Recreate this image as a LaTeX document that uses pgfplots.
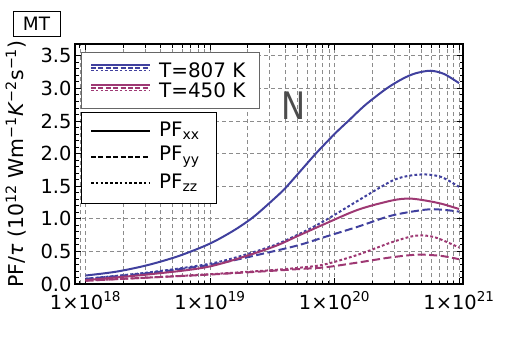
\documentclass[border=0pt]{standalone}
\usepackage{fontspec}
\setmainfont{DejaVu Sans}
\usepackage{pgfplots}
\pgfplotsset{compat=1.18}
\definecolor{c807}{rgb}{0.25,0.25,0.62}
\definecolor{c450}{rgb}{0.62,0.22,0.45}
\tikzset{dsh/.style={dash pattern=on 8bp off 3.5bp},
         dtt/.style={dash pattern=on 2.8bp off 2.2bp},
         ldsh/.style={dash pattern=on 5bp off 2.4bp},
         ldtt/.style={dash pattern=on 2.6bp off 2.2bp}}

\begin{document}
\begin{tikzpicture}
\path[use as bounding box] (0,0) rectangle (525bp,-350bp);
\begin{axis}[at={(75bp,-284bp)}, anchor=south west,
  scale only axis, width=388bp, height=240bp,
  xmode=log, xmin=8.24e17, xmax=1.077e21, ymin=0, ymax=3.68,
  xtick={1e18,1e19,1e20,1e21},
  xticklabels={1×10\textsuperscript{18},1×10\textsuperscript{19},1×10\textsuperscript{20},1×10\textsuperscript{21}},
  minor xtick={9e17,2e18,3e18,4e18,5e18,6e18,7e18,8e18,9e18,
    2e19,3e19,4e19,5e19,6e19,7e19,8e19,9e19,
    2e20,3e20,4e20,5e20,6e20,7e20,8e20,9e20},
  ytick={0,0.5,...,3.5}, minor y tick num=4,
  yticklabel style={/pgf/number format/.cd,fixed,fixed zerofill,precision=1,assume math mode=true},
  tick label style={font=\fontsize{19.5}{19.5}\selectfont, black},
  xticklabel style={yshift=-4bp},
  tick align=inside, major tick length=6bp, minor tick length=3.5bp,
  tick style={black, line width=0.8bp},
  axis line style={line width=1.8bp},
  xmajorgrids, xminorgrids, ymajorgrids,
  major grid style={gray!90, dash pattern=on 4bp off 3bp, line width=0.6bp},
  minor grid style={gray!90, dash pattern=on 4bp off 3bp, line width=0.6bp},
  every axis plot/.append style={line width=2bp, smooth}]
% T = 807 K
\addplot[c807] coordinates {(1e18,0.13)(1.78e18,0.19)(3.16e18,0.29)(5.62e18,0.43)(1e19,0.62)(1.58e19,0.83)(2.24e19,1.03)(3.16e19,1.28)(3.98e19,1.46)(5.37e19,1.74)(7.08e19,2.0)(1e20,2.3)(1.29e20,2.5)(1.78e20,2.75)(2.63e20,3.0)(3.55e20,3.15)(4.47e20,3.23)(5.89e20,3.27)(7.59e20,3.22)(1e21,3.08)};
\addplot[c807, dsh] coordinates {(1e18,0.08)(3.31e18,0.17)(1.12e19,0.31)(2.88e19,0.48)(5.25e19,0.6)(8.32e19,0.72)(1.55e20,0.88)(2.88e20,1.05)(5.37e20,1.14)(7.24e20,1.14)(1e21,1.11)};
\addplot[c807, dtt] coordinates {(1e18,0.08)(3.31e18,0.18)(1.12e19,0.33)(3.02e19,0.57)(5.25e19,0.77)(8.32e19,0.97)(1.55e20,1.28)(2.88e20,1.58)(3.98e20,1.66)(5.37e20,1.68)(7.24e20,1.64)(1e21,1.49)};
% T = 450 K
\addplot[c450] coordinates {(1e18,0.06)(3.31e18,0.15)(1e19,0.27)(3.02e19,0.55)(5.25e19,0.75)(8.32e19,0.92)(1.55e20,1.14)(2.88e20,1.28)(3.98e20,1.31)(5.37e20,1.28)(7.24e20,1.23)(1e21,1.15)};
\addplot[c450, dsh] coordinates {(1e18,0.05)(3.31e18,0.1)(1e19,0.145)(3.02e19,0.2)(5.25e19,0.23)(8.32e19,0.255)(1.55e20,0.33)(2.88e20,0.41)(4.68e20,0.45)(7.24e20,0.43)(1e21,0.38)};
\addplot[c450, dtt] coordinates {(1e18,0.05)(3.31e18,0.1)(1e19,0.15)(3.02e19,0.21)(5.25e19,0.25)(8.32e19,0.3)(1.55e20,0.45)(2.88e20,0.64)(4.47e20,0.74)(6.31e20,0.72)(1e21,0.56)};
\end{axis}
% y label
\node[rotate=90, font=\fontsize{20.5}{20.5}\selectfont] at (16bp,-164bp)
  {PF/\textit{τ} (10\textsuperscript{12} Wm\textsuperscript{−1}\textit{K}\textsuperscript{−2}s\textsuperscript{−1})};
% panel tag
\node[draw=black, line width=0.8bp, inner sep=2bp, minimum width=47bp, minimum height=25bp,
  font=\fontsize{18.5}{18.5}\selectfont] at (36.5bp,-23.5bp) {MT};
\node[text=black!70, font=\fontsize{38}{38}\selectfont, xscale=0.85] at (294bp,-106bp) {N};
% legend: temperatures
\draw[gray!80!black, fill=white, line width=1bp] (81bp,-52bp) rectangle (259bp,-108bp);
\draw[c807, line width=1.6bp] (91bp,-65bp) -- (150bp,-65bp);
\draw[c807, line width=1.6bp, ldsh] (91bp,-67.7bp) -- (150bp,-67.7bp);
\draw[c807, line width=1.6bp, ldtt] (91bp,-70.4bp) -- (150bp,-70.4bp);
\node[anchor=west, font=\fontsize{20}{20}\selectfont, inner sep=0] at (159bp,-70.5bp) {T=807 K};
\draw[c450, line width=1.6bp] (91bp,-85bp) -- (150bp,-85bp);
\draw[c450, line width=1.6bp, ldsh] (91bp,-87.7bp) -- (150bp,-87.7bp);
\draw[c450, line width=1.6bp, ldtt] (91bp,-90.4bp) -- (150bp,-90.4bp);
\node[anchor=west, font=\fontsize{20}{20}\selectfont, inner sep=0] at (159bp,-90.5bp) {T=450 K};
% legend: components
\draw[black, fill=white, line width=1bp] (81bp,-112bp) rectangle (216bp,-203bp);
\draw[black, line width=1.8bp] (91bp,-130.7bp) -- (150bp,-130.7bp);
\draw[black, line width=1.8bp, ldsh] (91bp,-156.7bp) -- (150bp,-156.7bp);
\draw[black, line width=1.8bp, ldtt] (91bp,-182.7bp) -- (150bp,-182.7bp);
\node[anchor=west, font=\fontsize{20}{20}\selectfont, inner sep=0] at (159bp,-130.7bp) {PF\textsubscript{xx}};
\node[anchor=west, font=\fontsize{20}{20}\selectfont, inner sep=0] at (159bp,-156.7bp) {PF\textsubscript{yy}};
\node[anchor=west, font=\fontsize{20}{20}\selectfont, inner sep=0] at (159bp,-182.7bp) {PF\textsubscript{zz}};
\end{tikzpicture}
\end{document}
